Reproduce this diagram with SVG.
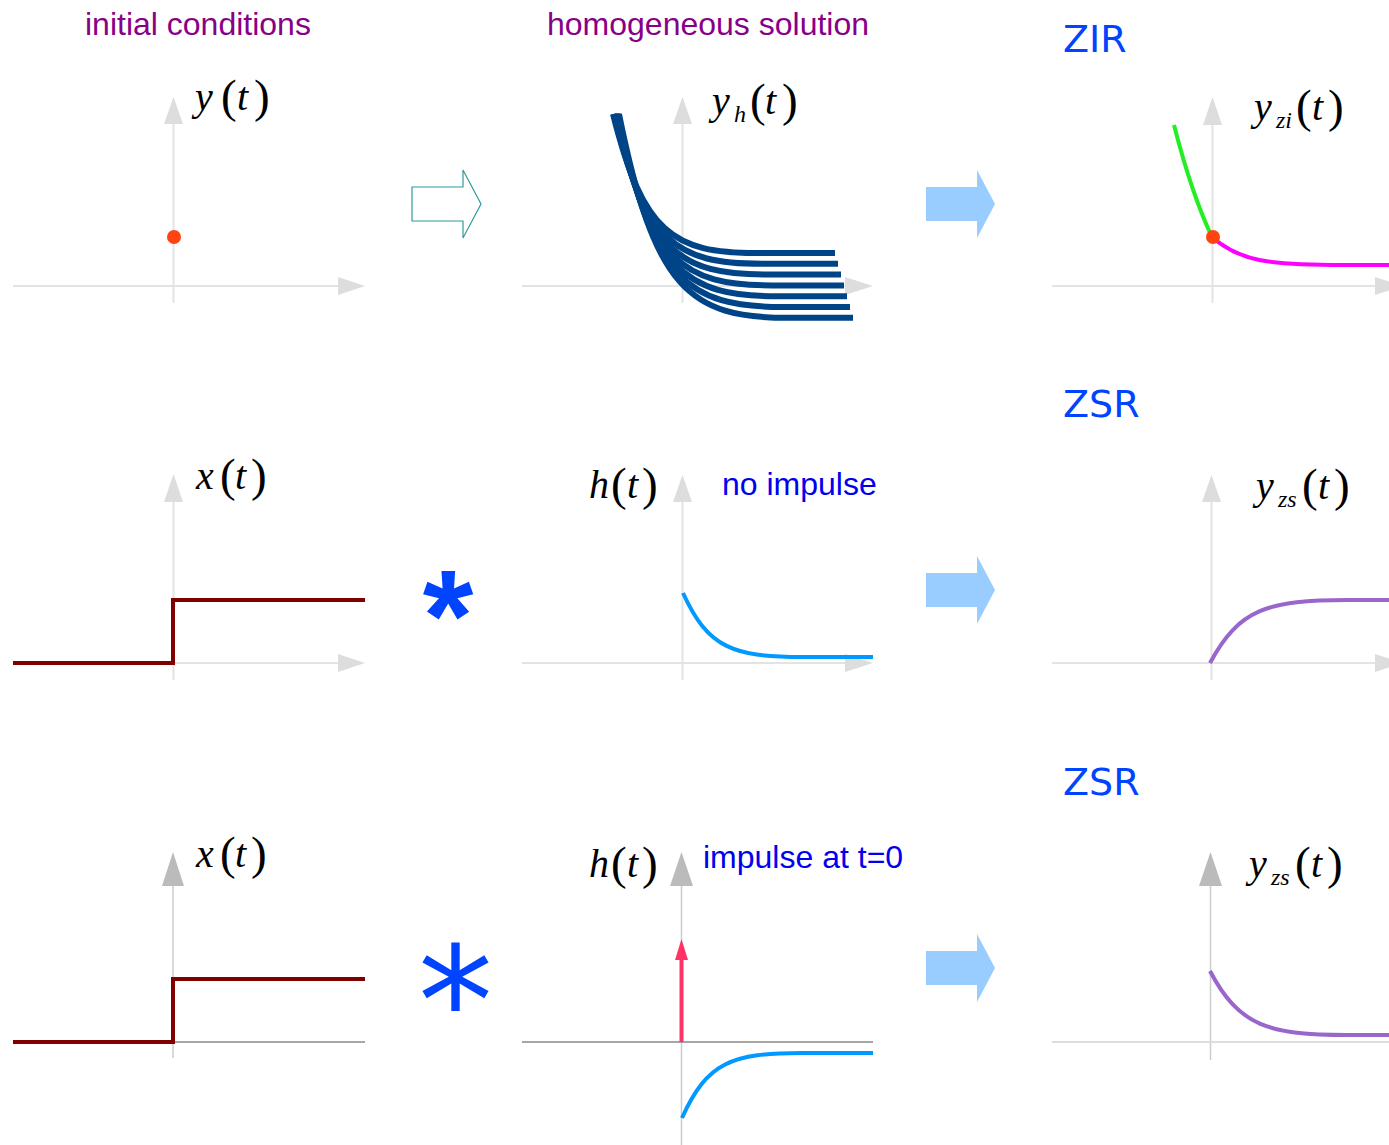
<svg xmlns="http://www.w3.org/2000/svg" width="1389" height="1145" viewBox="0 0 1389 1145">
<style>
.ax{stroke:#e3e3e3;stroke-width:2;fill:none}
.ah{fill:#dddddd}
.ax3{stroke:#cccccc;stroke-width:1.5;fill:none}
.ah3{fill:#bbbbbb}
.axd{stroke:#888888;stroke-width:1.5;fill:none}
.m{font-family:"Liberation Serif","Times New Roman",serif;font-size:40px;fill:#000}
.i{font-style:italic}
.p{font-size:47px}
.sub{font-style:italic;font-size:24px}
.title{font-family:"Liberation Sans",Arial,sans-serif;font-size:32px;fill:#880088}
.note{font-family:"Liberation Sans",Arial,sans-serif;font-size:32px;fill:#0000ee}
.z{font-family:"DejaVu Sans",sans-serif;font-size:38px;fill:#0044ff}
.yh{fill:none;stroke:#004488;stroke-width:6}
.step{fill:none;stroke:#800000;stroke-width:4}
.hc{fill:none;stroke:#0099ff;stroke-width:4}
.pc{fill:none;stroke:#9966cc;stroke-width:4}
.dot{fill:#ff4411}
.bl{fill:#99ccff}
</style>

<text class="title" x="85" y="35">initial conditions</text>
<text class="title" x="547" y="35">homogeneous solution</text>

<g id="ic">
<path class="ax" d="M173.5 124V303M13 286H338"/>
<polygon class="ah" points="164,124 173.5,97 183,124"/>
<polygon class="ah" points="338,277 365,286 338,295"/>
<circle class="dot" cx="174" cy="237" r="7"/>
<text class="m" y="110"><tspan x="195" class="i">y</tspan><tspan x="221" class="p" y="112">(</tspan><tspan x="237" y="110" class="i">t</tspan><tspan x="254" class="p" y="112">)</tspan></text>
</g>

<g id="homogeneous">
<path class="ax" d="M682.5 124V303M522 286H845"/>
<polygon class="ah" points="673,124 682.5,97 692,124"/>
<polygon class="ah" points="845,277 873,286 845,295"/>
<path class="yh" d="M613 114C643 233.5 673 253 757 253L835 253"/>
<path class="yh" d="M614 114C644.9 242.8 675.8 263.8 762.2 263.8L838 263.8"/>
<path class="yh" d="M615 114C646.8 252.1 678.5 274.6 767.4 274.6L841 274.6"/>
<path class="yh" d="M616 114C648.6 261.4 681.3 285.4 772.6 285.4L844 285.4"/>
<path class="yh" d="M617 114C650.5 270.7 684 296.2 777.8 296.2L847 296.2"/>
<path class="yh" d="M618 114C652.4 280 686.8 307 783 307L850 307"/>
<path class="yh" d="M619 114C654.3 289.3 689.5 317.8 788.2 317.8L853 317.8"/>
<text class="m" y="114"><tspan x="712" class="i">y</tspan><tspan x="734" y="122" class="sub">h</tspan><tspan x="750" y="116" class="p">(</tspan><tspan x="765" y="114" class="i">t</tspan><tspan x="782" y="116" class="p">)</tspan></text>
</g>

<g id="zir">
<text class="z" x="1063" y="52">ZIR</text>
<path class="ax" d="M1212.5 125V303M1052 286H1375"/>
<polygon class="ah" points="1203,125 1212.5,97 1222,125"/>
<polygon class="ah" points="1375,277 1403,286 1375,295"/>
<path d="M1174 125Q1192 195 1212 237" fill="none" stroke="#22ee22" stroke-width="4"/>
<path d="M1212 237C1239.5 261.1 1267 265 1344 265L1389 265" fill="none" stroke="#ff00ff" stroke-width="4"/>
<circle class="dot" cx="1213" cy="237" r="7"/>
<text class="m" y="120"><tspan x="1254" class="i">y</tspan><tspan x="1276" y="128" class="sub">zi</tspan><tspan x="1296" y="122" class="p">(</tspan><tspan x="1312" y="120" class="i">t</tspan><tspan x="1328" y="122" class="p">)</tspan></text>
</g>

<g id="input1">
<path class="ax" d="M173.5 502V680M13 663H338"/>
<polygon class="ah" points="164,502 173.5,474 183,502"/>
<polygon class="ah" points="338,654 365,663 338,672"/>
<path class="step" d="M13 663H173V600H365"/>
<text class="m" y="489"><tspan x="196" class="i">x</tspan><tspan x="220" y="491" class="p">(</tspan><tspan x="235" y="489" class="i">t</tspan><tspan x="251" y="491" class="p">)</tspan></text>
</g>

<g id="conv1">
<text x="448" y="661" text-anchor="middle" font-family="'Liberation Sans',Arial,sans-serif" font-weight="bold" font-size="130" fill="#0044ff">*</text>
</g>

<g id="h1">
<path class="ax" d="M682.5 502V680M522 663H845"/>
<polygon class="ah" points="673,502 682.5,475 692,502"/>
<polygon class="ah" points="845,654 873,663 845,672"/>
<path class="hc" d="M683 593C708 648 733 657 803 657L873 657"/>
<text class="m" y="498"><tspan x="589" class="i">h</tspan><tspan x="611" y="500" class="p">(</tspan><tspan x="627" y="498" class="i">t</tspan><tspan x="642" y="500" class="p">)</tspan></text>
<text class="note" x="722" y="495">no impulse</text>
</g>

<g id="zsr1">
<text class="z" x="1063" y="417">ZSR</text>
<path class="ax" d="M1211.5 502V680M1052 663H1375"/>
<polygon class="ah" points="1202,502 1211.5,475 1221,502"/>
<polygon class="ah" points="1375,654 1403,663 1375,672"/>
<path class="pc" d="M1210 663C1239 608.8 1268 600 1348 600L1389 600"/>
<text class="m" y="499"><tspan x="1256" class="i">y</tspan><tspan x="1278" y="507" class="sub">zs</tspan><tspan x="1302" y="501" class="p">(</tspan><tspan x="1318" y="499" class="i">t</tspan><tspan x="1334" y="501" class="p">)</tspan></text>
</g>

<g id="input2">
<path class="ax3" d="M173 885V1058"/>
<path class="axd" d="M13 1042H365"/>
<polygon class="ah3" points="162,886 173,852 184,886"/>
<path class="step" d="M13 1042H173V979H365"/>
<text class="m" y="867"><tspan x="196" class="i">x</tspan><tspan x="220" y="869" class="p">(</tspan><tspan x="235" y="867" class="i">t</tspan><tspan x="251" y="869" class="p">)</tspan></text>
</g>

<g id="conv2">
<text x="455.5" y="1054" text-anchor="middle" font-family="'DejaVu Sans',sans-serif" font-size="150" fill="#0044ff">*</text>
</g>

<g id="h2">
<path class="ax3" d="M681.5 885V1145"/>
<path class="axd" d="M522 1042H873"/>
<polygon class="ah3" points="670,886 681.5,852 693,886"/>
<path d="M681.5 1042V955" fill="none" stroke="#ff3366" stroke-width="4"/>
<polygon points="675,960 681.5,939 688,960" fill="#ff3366"/>
<path class="hc" d="M682 1118C707 1062.1 732 1053 802 1053L873 1053"/>
<text class="m" y="877"><tspan x="589" class="i">h</tspan><tspan x="611" y="879" class="p">(</tspan><tspan x="627" y="877" class="i">t</tspan><tspan x="642" y="879" class="p">)</tspan></text>
<text class="note" x="703" y="868">impulse at t=0</text>
</g>

<g id="zsr2">
<text class="z" x="1063" y="795">ZSR</text>
<path class="ax3" d="M1210.5 885V1060"/>
<path d="M1052 1042H1389" fill="none" stroke="#dddddd" stroke-width="2"/>
<polygon class="ah3" points="1199,886 1210.5,852 1222,886"/>
<path class="pc" d="M1210 971C1239 1026 1268 1035 1348 1035L1389 1035"/>
<text class="m" y="877"><tspan x="1249" class="i">y</tspan><tspan x="1271" y="885" class="sub">zs</tspan><tspan x="1295" y="879" class="p">(</tspan><tspan x="1311" y="877" class="i">t</tspan><tspan x="1327" y="879" class="p">)</tspan></text>
</g>

<g id="connectors">
<polygon points="412,187 463,187 463,170 481,204 463,238 463,221 412,221" fill="#ffffff" stroke="#2f9a9a" stroke-width="1.2"/>
<polygon class="bl" points="926,187 977,187 977,170 995,204 977,238 977,221 926,221"/>
<polygon class="bl" points="926,573 977,573 977,556 995,590 977,624 977,607 926,607"/>
<polygon class="bl" points="926,951 977,951 977,934 995,968 977,1002 977,985 926,985"/>
</g>
</svg>
